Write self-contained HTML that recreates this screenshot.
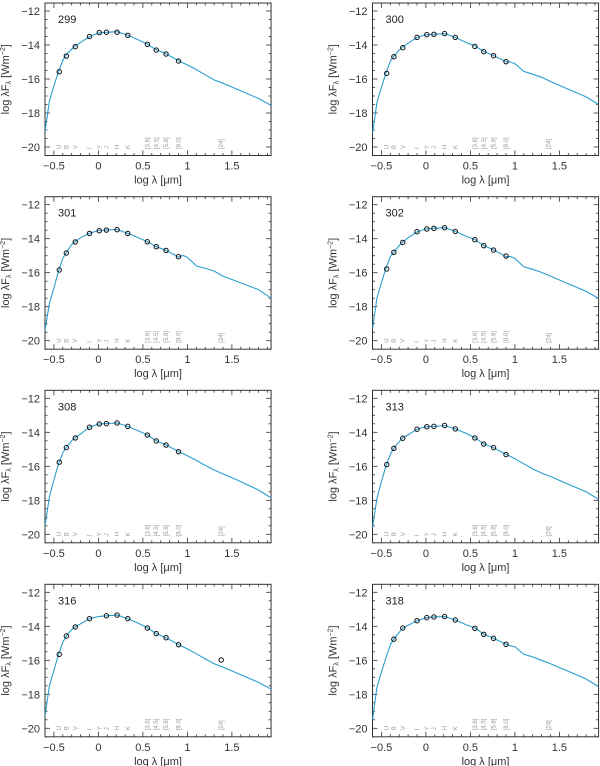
<!DOCTYPE html>
<html><head><meta charset="utf-8"><style>
html,body{margin:0;padding:0;background:#fff;}
svg{display:block;font-family:"Liberation Sans",sans-serif;}
</style></head><body>
<svg id="fig" width="600" height="766" viewBox="0 0 600 766" xmlns="http://www.w3.org/2000/svg"></svg>
<script>
const panelIds = ["299","300","301","302","308","313","316","318"];
const modelLam = [-0.6,-0.55,-0.5,-0.45,-0.4,-0.36,-0.3,-0.26,-0.2,-0.1,0,0.09,0.21,0.33,0.45,0.55,0.65,0.76,0.9,0.95,1.0,1.1,1.2,1.3,1.4,1.6,1.8,1.94];
const model299 = [-19.1,-17.3,-16.4,-15.6,-14.9,-14.55,-14.25,-14.05,-13.85,-13.5,-13.3,-13.25,-13.22,-13.42,-13.7,-13.95,-14.28,-14.52,-14.92,-15.05,-15.17,-15.45,-15.75,-16.05,-16.25,-16.7,-17.15,-17.55];
const model300 = [-19.2,-17.4,-16.5,-15.65,-14.95,-14.65,-14.3,-14.12,-13.9,-13.55,-13.4,-13.37,-13.33,-13.55,-13.85,-14.05,-14.38,-14.62,-14.98,-15.0,-15.1,-15.55,-15.72,-15.9,-16.15,-16.6,-17.05,-17.5];
const model301 = [-19.4,-17.8,-16.9,-15.95,-15.15,-14.8,-14.35,-14.15,-13.95,-13.68,-13.52,-13.48,-13.46,-13.69,-13.95,-14.17,-14.47,-14.68,-15.08,-14.98,-15.1,-15.6,-15.75,-15.9,-16.2,-16.6,-17.0,-17.5];
const model302 = [-19.3,-17.5,-16.6,-15.75,-15.05,-14.78,-14.4,-14.2,-13.95,-13.6,-13.43,-13.39,-13.35,-13.57,-13.85,-14.05,-14.4,-14.66,-15.05,-15.05,-15.15,-15.65,-15.8,-15.98,-16.2,-16.65,-17.1,-17.51];
const model308 = [-19.5,-17.8,-16.8,-15.9,-15.2,-14.88,-14.5,-14.3,-14.1,-13.7,-13.52,-13.49,-13.45,-13.65,-13.92,-14.15,-14.5,-14.74,-15.13,-15.25,-15.38,-15.65,-15.95,-16.22,-16.45,-16.9,-17.4,-17.86];
const model313 = [-19.6,-17.9,-16.9,-16.0,-15.3,-14.92,-14.55,-14.32,-14.15,-13.82,-13.67,-13.65,-13.6,-13.8,-14.05,-14.32,-14.68,-14.9,-15.3,-15.42,-15.55,-15.85,-16.15,-16.4,-16.6,-17.05,-17.5,-17.94];
const model316 = [-19.3,-17.5,-16.6,-15.7,-14.95,-14.55,-14.2,-14.02,-13.85,-13.55,-13.43,-13.38,-13.34,-13.55,-13.82,-14.08,-14.43,-14.67,-15.07,-15.2,-15.33,-15.62,-15.92,-16.2,-16.4,-16.85,-17.3,-17.7];
const model318 = [-19.5,-17.6,-16.7,-15.85,-15.1,-14.75,-14.35,-14.1,-13.95,-13.67,-13.5,-13.45,-13.43,-13.63,-13.9,-14.1,-14.46,-14.7,-15.06,-15.15,-15.2,-15.65,-15.8,-16.0,-16.2,-16.65,-17.1,-17.55];
const bandLam = [-0.44,-0.36,-0.26,-0.1,0.01,0.09,0.21,0.33,0.55,0.65,0.76,0.9,1.38];
const bandNames = ["U","B","V","I","Y","J","H","K","[3.6]","[4.5]","[5.8]","[8.0]","[24]"];
const obs299 = [-15.57,-14.65,-14.1,-13.5,-13.27,-13.25,-13.25,-13.43,-13.96,-14.3,-14.53,-14.94,null];
const obs300 = [-15.67,-14.69,-14.16,-13.55,-13.39,-13.37,-13.33,-13.55,-14.08,-14.39,-14.63,-14.98,null];
const obs301 = [-15.84,-14.84,-14.19,-13.69,-13.53,-13.49,-13.47,-13.69,-14.18,-14.47,-14.69,-15.06,null];
const obs302 = [-15.78,-14.8,-14.22,-13.59,-13.43,-13.39,-13.35,-13.57,-14.06,-14.41,-14.67,-15.02,null];
const obs308 = [-15.76,-14.9,-14.33,-13.7,-13.51,-13.49,-13.45,-13.65,-14.16,-14.51,-14.75,-15.14,null];
const obs313 = [-15.9,-14.94,-14.35,-13.82,-13.67,-13.65,-13.6,-13.8,-14.33,-14.69,-14.9,-15.31,null];
const obs316 = [-15.65,-14.57,-14.04,-13.55,null,-13.38,-13.34,-13.55,-14.1,-14.43,-14.67,-15.08,-15.98];
const obs318 = [null,-14.76,-14.1,-13.67,-13.49,-13.45,-13.43,-13.63,-14.12,-14.47,-14.71,-15.06,null];
const xTickVals = [-0.5,0,0.5,1,1.5];
const xTickLabels = ["\u22120.5","0","0.5","1","1.5"];
const yTickVals = [-12,-14,-16,-18,-20];
const yTickLabels = ["\u221212","\u221214","\u221216","\u221218","\u221220"];

const models = [model299,model300,model301,model302,model308,model313,model316,model318];
const observations = [obs299,obs300,obs301,obs302,obs308,obs313,obs316,obs318];

const NS = "http://www.w3.org/2000/svg";
const svg = document.getElementById("fig");
const XMIN=-0.6, XMAX=1.94, YTOP=-11.53, YBOT=-20.5;
const colX = [45, 372.5];
const rowY = [11, 204.7, 398.3, 592.3];
const PXX = 89, PXY = 17;

function mk(tag, attrs, parent){
  const e = document.createElementNS(NS, tag);
  for (const k in attrs) e.setAttribute(k, attrs[k]);
  (parent||svg).appendChild(e);
  return e;
}

panelIds.forEach((pid, i) => {
  const col = i % 2, row = Math.floor(i / 2);
  const x0 = colX[col], y12 = rowY[row];
  const sx = v => x0 + (v - XMIN) * PXX;
  const sy = v => y12 + (-12 - v) * PXY;
  const g = mk("g", {});
  
  
  const L = sx(XMIN), R = sx(XMAX), T = sy(YTOP), B = sy(YBOT);

  // ticks
  const ticks = mk("g", {stroke:"#333","stroke-width":"0.8"}, g);
  
  
  for (let k = -6; k <= 19; k++) {
    const v = k / 10; const x = sx(v);
    if (x < L + 0.5 || x > R - 0.5) continue;
    const len = (k % 5 === 0) ? 5 : 2.5;
    mk("line", {x1:x, y1:B, x2:x, y2:B - len}, ticks);
    mk("line", {x1:x, y1:T, x2:x, y2:T + len}, ticks);
  }
  for (let k = 0; k <= 17; k++) {
    const v = -12 + -k * 0.5; const y = sy(v);
    const len = (k % 4 === 0) ? 5 : 2.5;
    mk("line", {x1:L, y1:y, x2:L + len, y2:y}, ticks);
    mk("line", {x1:R, y1:y, x2:R - len, y2:y}, ticks);
  }
  const fr = mk("rect", {x:L, y:T, width:R - L, height:B - T, fill:"none", stroke:"#333", "stroke-width":"1"}, g);
  
  

  xTickVals.forEach((v, j) => {
    const t = mk("text", {x:sx(v), y:B + 14, "text-anchor":"middle", "font-size":"11", fill:"#333"}, g);
    
    
    t.textContent = xTickLabels[j];
  });
  yTickVals.forEach((v, j) => {
    const t = mk("text", {x:L - 5, y:sy(v) + 4, "text-anchor":"end", "font-size":"11", fill:"#333"}, g);
    
    
    t.textContent = yTickLabels[j];
  });
  const xt = mk("text", {x:(L + R) / 2, y:B + 28, "text-anchor":"middle", "font-size":"11", fill:"#333"}, g);
  
  
  xt.innerHTML = 'log \u03bb [\u03bcm]';
  const ycx = L - 36, ycy = (T + B) / 2;
  const yt = mk("text", {x:ycx, y:ycy, "text-anchor":"middle", "font-size":"11", fill:"#333", transform:`rotate(-90 ${ycx} ${ycy})`}, g);
  
  
  yt.innerHTML = 'log \u03bbF<tspan font-size="7" dy="2">\u03bb</tspan><tspan dy="-2"> [Wm</tspan><tspan font-size="7" dy="-4">\u22122</tspan><tspan dy="4">]</tspan>';

  const nl = mk("text", {x:L + 13, y:T + 20, "font-size":"11", fill:"#222"}, g);
  
  
  nl.textContent = pid;

  // filter labels
  bandLam.forEach((v, j) => {
    const bx = sx(v) + 2, by = sy(-20) + 2;
    const t = mk("text", {x:bx, y:by, "font-size":"6", fill:"#999", transform:`rotate(-90 ${bx} ${by})`}, g);
    
    
    t.textContent = bandNames[j];
  });

  // model curve
  const m = models[i];
  const d = modelLam.map((v, j) => (j ? "L" : "M") + sx(v).toFixed(1) + "," + sy(m[j]).toFixed(1)).join("");
  const cp = mk("clipPath", {id:"clip" + pid}, g);
  mk("rect", {x:L, y:T, width:R - L, height:B - T}, cp);
  const path = mk("path", {d:d, fill:"none", stroke:"#2a9fd0", "stroke-width":"1.1", "clip-path":`url(#clip${pid})`}, g);
  
  

  // observed points
  const o = observations[i];
  o.forEach((v, j) => {
    if (v === null) return;
    const c = mk("circle", {cx:sx(bandLam[j]), cy:sy(v), r:"2.2", fill:"none", stroke:"#111", "stroke-width":"1"}, g);
    
    
  });
});
</script>
</body></html>
